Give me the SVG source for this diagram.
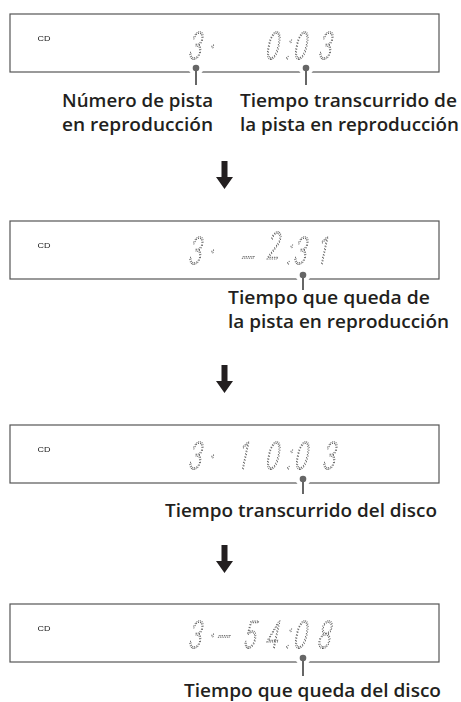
<svg xmlns="http://www.w3.org/2000/svg" width="461" height="702" viewBox="0 0 461 702">
<style>
.box{fill:#fff;stroke:#555;stroke-width:1.2}
.cd{font-family:"Liberation Sans",Arial,sans-serif;font-size:7.5px;fill:#222}
.seg{font-family:Inter,"DejaVu Sans",sans-serif;font-weight:200;font-size:37px;fill:none;stroke:#444;stroke-width:1.05;stroke-dasharray:1 1.4;vector-effect:non-scaling-stroke}
.lbl{font-family:"Open Sans","Noto Sans",sans-serif;font-weight:600;font-size:18px;fill:#231f20}
.halo{stroke:#fff;stroke-width:5;fill:#fff}
.lead{stroke:#666;stroke-width:2;fill:none}
.dot{fill:#666}
.arrow{fill:#231f20}
</style>
<defs>
<path id="arr" d="M-3,0 H3 V16 H8.5 L0,28 L-8.5,16 H-3 Z"/>
<filter id="gray" x="0" y="0" width="1" height="1"><feColorMatrix type="saturate" values="0"/></filter>
</defs>

<g id="display1">
<rect class="box" x="10" y="14" width="429" height="58"/>
<g filter="url(#gray)">
<text class="cd" x="37.5" y="40.5" textLength="13" lengthAdjust="spacingAndGlyphs">CD</text>
<text class="seg" transform="translate(0 59) skewX(-12) scale(0.62 1)" x="301.6 333.9 425.8 458.1 471 511.3" y="0">3·0:03</text>
</g>
</g>

<g id="display2">
<rect class="box" x="10" y="221" width="429" height="58"/>
<g filter="url(#gray)">
<text class="cd" x="37.5" y="247.5" textLength="13" lengthAdjust="spacingAndGlyphs">CD</text>
<text class="seg" transform="translate(0 264) skewX(-12) scale(0.62 1)" x="301.6 333.9 388.7 425.8 459.7 471 509.7" y="0 0 5 -5 0 0 0">3·–2:31</text>
</g>
</g>

<g id="display3">
<rect class="box" x="10" y="425" width="429" height="58"/>
<g filter="url(#gray)">
<text class="cd" x="37.5" y="451.5" textLength="13" lengthAdjust="spacingAndGlyphs">CD</text>
<text class="seg" transform="translate(0 469) skewX(-12) scale(0.62 1)" x="301.6 333.9 382.3 425.8 459.7 472.6 517.7" y="0">3·10:03</text>
</g>
</g>

<g id="display4">
<rect class="box" x="10" y="604" width="429" height="58"/>
<g filter="url(#gray)">
<text class="cd" x="37.5" y="630.5" textLength="13" lengthAdjust="spacingAndGlyphs">CD</text>
<text class="seg" transform="translate(0 648) skewX(-12) scale(0.62 1)" x="301.6 333.9 348.4 390.3 425.8 458.1 471 509.7" y="0">3·–54:08</text>
</g>
</g>

<g id="connectors">
<g id="leader1a">
<line class="halo" x1="196" y1="68" x2="196" y2="85"/><circle class="halo" cx="196" cy="68" r="5"/>
<line class="lead" x1="196" y1="68" x2="196" y2="85"/><circle class="dot" cx="196" cy="68" r="3.3"/>
</g>
<g id="leader1b">
<line class="halo" x1="306" y1="68" x2="306" y2="85"/><circle class="halo" cx="306" cy="68" r="5"/>
<line class="lead" x1="306" y1="68" x2="306" y2="85"/><circle class="dot" cx="306" cy="68" r="3.3"/>
</g>
<g id="leader2">
<line class="halo" x1="303" y1="275" x2="303" y2="290"/><circle class="halo" cx="303" cy="275" r="5"/>
<line class="lead" x1="303" y1="275" x2="303" y2="290"/><circle class="dot" cx="303" cy="275" r="3.3"/>
</g>
<g id="leader3">
<line class="halo" x1="303" y1="479" x2="303" y2="494"/><circle class="halo" cx="303" cy="479" r="5"/>
<line class="lead" x1="303" y1="479" x2="303" y2="494"/><circle class="dot" cx="303" cy="479" r="3.3"/>
</g>
<g id="leader4">
<line class="halo" x1="303" y1="658" x2="303" y2="676"/><circle class="halo" cx="303" cy="658" r="5"/>
<line class="lead" x1="303" y1="658" x2="303" y2="676"/><circle class="dot" cx="303" cy="658" r="3.3"/>
</g>
<use class="arrow" href="#arr" x="224.5" y="161"/>
<use class="arrow" href="#arr" x="224.5" y="365"/>
<use class="arrow" href="#arr" x="224.5" y="545"/>
</g>

<g id="labels">
<text class="lbl" x="62" y="107" textLength="151" lengthAdjust="spacingAndGlyphs">Número de pista</text>
<text class="lbl" x="62" y="131" textLength="151" lengthAdjust="spacingAndGlyphs">en reproducción</text>
<text class="lbl" x="240" y="107" textLength="217" lengthAdjust="spacingAndGlyphs">Tiempo transcurrido de</text>
<text class="lbl" x="240" y="131" textLength="219" lengthAdjust="spacingAndGlyphs">la pista en reproducción</text>
<text class="lbl" x="228" y="304" textLength="202" lengthAdjust="spacingAndGlyphs">Tiempo que queda de</text>
<text class="lbl" x="228" y="328" textLength="221" lengthAdjust="spacingAndGlyphs">la pista en reproducción</text>
<text class="lbl" x="165" y="517" textLength="272" lengthAdjust="spacingAndGlyphs">Tiempo transcurrido del disco</text>
<text class="lbl" x="184" y="697" textLength="257" lengthAdjust="spacingAndGlyphs">Tiempo que queda del disco</text>
</g>
</svg>
